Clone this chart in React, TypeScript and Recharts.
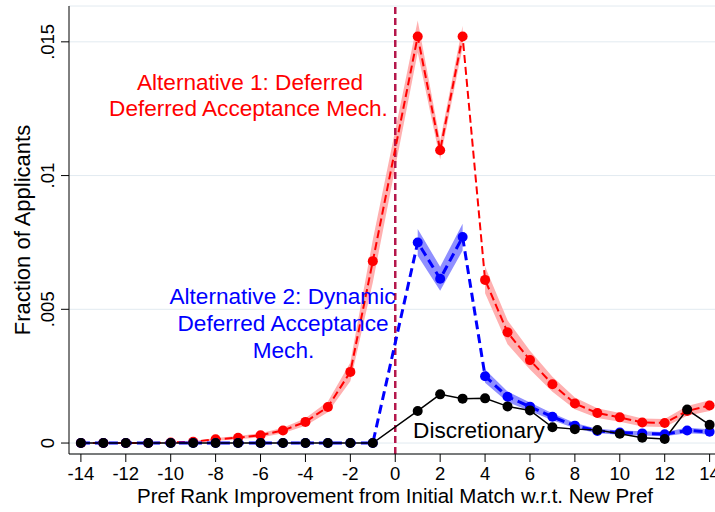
import React from "react";
import {
  ComposedChart,
  Line,
  Area,
  XAxis,
  YAxis,
  CartesianGrid,
  ReferenceLine,
} from "recharts";

// Pref rank improvement (x = 0 not observed)
const ranks = [-14, -13, -12, -11, -10, -9, -8, -7, -6, -5, -4, -3, -2, -1, 1, 2, 3, 4, 5, 6, 7, 8, 9, 10, 11, 12, 13, 14];

// Alternative 1: Deferred Deferred Acceptance Mech.
const alt1 = [0, 0, 0, 0, 0.00002, 0.00005, 0.00014, 0.0002, 0.00029, 0.00047, 0.00079, 0.00135, 0.00266, 0.0068, 0.0152, 0.01095, 0.0152, 0.0061, 0.00414, 0.0031, 0.0022, 0.00148, 0.00112, 0.00096, 0.00077, 0.00075, 0.0012, 0.0014];
const alt1Half = [0.00002, 0.00002, 0.00002, 0.00002, 0.00002, 0.00003, 0.00005, 0.00006, 0.00008, 0.0001, 0.00014, 0.0002, 0.00035, 0.0008, 0.0006, 0.00035, 0.0004, 0.0005, 0.00045, 0.00035, 0.00028, 0.00022, 0.00018, 0.00016, 0.00015, 0.00015, 0.00018, 0.0002];

// Alternative 2: Dynamic Deferred Acceptance Mech.
const alt2 = [0, 0, 0, 0, 0, 0, 0, 0, 0, 0, 0, 0, 0, 0, 0.0075, 0.00614, 0.0077, 0.0025, 0.00173, 0.00136, 0.00098, 0.00065, 0.00045, 0.00039, 0.00036, 0.00033, 0.00047, 0.00042];
const alt2Half = [0.00001, 0.00001, 0.00001, 0.00001, 0.00001, 0.00001, 0.00001, 0.00001, 0.00001, 0.00001, 0.00001, 0.00001, 0.00001, 0.00001, 0.0005, 0.00045, 0.0005, 0.00025, 0.0002, 0.00016, 0.00013, 0.0001, 0.00008, 0.00008, 0.00008, 0.00008, 0.0001, 0.0001];

// Discretionary
const discretionary = [0, 0, 0, 0, 0, 0, 0, 0, 0, 0, 0, 0, 0, 0, 0.0012, 0.00182, 0.00166, 0.00167, 0.00137, 0.00122, 0.00059, 0.00052, 0.00049, 0.00035, 0.0002, 0.00015, 0.00125, 0.00068];

// confidence band segments (rank ranges)
const alt1Segments: [number, number][] = [[-14, 3], [4, 14]];
const alt2Segments: [number, number][] = [[-14, -1], [1, 3], [4, 14]];

const xTicks = [-14, -12, -10, -8, -6, -4, -2, 0, 2, 4, 6, 8, 10, 12, 14];
const yTicks = [0, 0.005, 0.01, 0.015];
const yTickLabels = ["0", ".005", ".01", ".015"];

const data = ranks.map((x, i) => {
  const row: any = { x, alt1: alt1[i], alt2: alt2[i], disc: discretionary[i] };
  alt1Segments.forEach(([a, b], s) => {
    row["b1_" + s] = x >= a && x <= b ? [alt1[i] - alt1Half[i], alt1[i] + alt1Half[i]] : null;
  });
  alt2Segments.forEach(([a, b], s) => {
    row["b2_" + s] = x >= a && x <= b ? [alt2[i] - alt2Half[i], alt2[i] + alt2Half[i]] : null;
  });
  return row;
});

const FONT = "'Liberation Sans', Arial, Helvetica, sans-serif";

const YTick = (props: any) => {
  const { x, y, payload } = props;
  const idx = yTicks.indexOf(payload.value);
  const label = idx >= 0 ? yTickLabels[idx] : String(payload.value);
  const tx = x - 5;
  return (
    <text
      x={tx}
      y={y}
      transform={`rotate(-90, ${tx}, ${y})`}
      textAnchor="middle"
      fontSize={18.5}
      fontFamily={FONT}
      fill="#000"
    >
      {label}
    </text>
  );
};

const RED = "#ff0000";
const BLUE = "#0000ff";

export default function App() {
  return (
    <div style={{ position: "absolute", left: 0, top: 0, width: 715, height: 512, background: "#fff", overflow: "hidden" }}>
      <ComposedChart
        width={715}
        height={512}
        data={data}
        margin={{ top: 6, right: 0, bottom: 0, left: 0 }}
        style={{ fontFamily: FONT }}
      >
        <CartesianGrid vertical={false} stroke="#e2eaf0" strokeWidth={1} />
        <XAxis
          type="number"
          dataKey="x"
          domain={[-14.53, 14.24]}
          allowDataOverflow
          ticks={xTicks}
          height={58}
          tickSize={8}
          tickMargin={5}
          stroke="#000"
          tick={{ fill: "#000", fontSize: 18.5, fontFamily: FONT }}
          interval={0}
        />
        <YAxis
          type="number"
          domain={[-0.00041, 0.01634]}
          allowDataOverflow
          ticks={yTicks}
          width={69}
          tickSize={8}
          stroke="#000"
          tick={<YTick />}
          interval={0}
        />
        <ReferenceLine x={0} stroke="#b5174b" strokeWidth={2.5} strokeDasharray="7 4" />
        {alt1Segments.map((_, s) => (
          <Area
            key={"b1" + s}
            dataKey={"b1_" + s}
            type="linear"
            stroke="none"
            fill="#ffb0b0"
            fillOpacity={1}
            isAnimationActive={false}
            activeDot={false}
            connectNulls={false}
          />
        ))}
        {alt2Segments.map((_, s) => (
          <Area
            key={"b2" + s}
            dataKey={"b2_" + s}
            type="linear"
            stroke="none"
            fill="#8f8fff"
            fillOpacity={1}
            isAnimationActive={false}
            activeDot={false}
            connectNulls={false}
          />
        ))}
        <Line
          dataKey="alt1"
          type="linear"
          stroke={RED}
          strokeWidth={2}
          strokeDasharray="8 4"
          dot={{ r: 5, fill: RED, stroke: "none", strokeDasharray: "" }}
          activeDot={false}
          isAnimationActive={false}
        />
        <Line
          dataKey="alt2"
          type="linear"
          stroke={BLUE}
          strokeWidth={3}
          strokeDasharray="9 5"
          dot={{ r: 5, fill: BLUE, stroke: "none", strokeDasharray: "" }}
          activeDot={false}
          isAnimationActive={false}
        />
        <Line
          dataKey="disc"
          type="linear"
          stroke="#000"
          strokeWidth={1.5}
          dot={{ r: 5, fill: "#000", stroke: "none" }}
          activeDot={false}
          isAnimationActive={false}
        />
      </ComposedChart>
      <svg
        width={715}
        height={512}
        style={{ position: "absolute", left: 0, top: 0, pointerEvents: "none" }}
        fontFamily={FONT}
      >
        <text x={250} y={90} textAnchor="middle" fontSize={22.6} fill={RED}>Alternative 1: Deferred</text>
        <text x={248.5} y={115.5} textAnchor="middle" fontSize={22.6} fill={RED}>Deferred Acceptance Mech.</text>
        <text x={282.5} y={304} textAnchor="middle" fontSize={22.6} fill={BLUE}>Alternative 2: Dynamic</text>
        <text x={283} y={331} textAnchor="middle" fontSize={22.6} fill={BLUE}>Deferred Acceptance</text>
        <text x={283.5} y={357.5} textAnchor="middle" fontSize={22.6} fill={BLUE}>Mech.</text>
        <text x={479} y={437.7} textAnchor="middle" fontSize={22.6} fill="#000">Discretionary</text>
        <text x={395} y={503} textAnchor="middle" fontSize={20.5} fill="#000">Pref Rank Improvement from Initial Match w.r.t. New Pref</text>
        <text x={30} y={230} textAnchor="middle" fontSize={22} fill="#000" transform="rotate(-90, 30, 230)">Fraction of Applicants</text>
      </svg>
    </div>
  );
}
